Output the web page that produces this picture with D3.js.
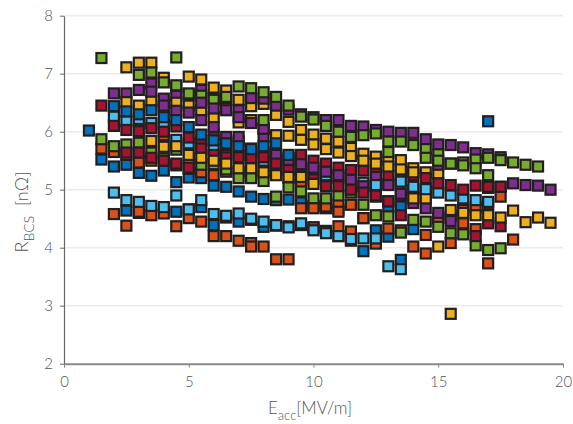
<!DOCTYPE html>
<html>
<head>
<meta charset="utf-8">
<script src="https://cdn.jsdelivr.net/npm/d3@7"></script>
<style>
  body { margin: 0; background: #fff; }
  svg text { font-family: "Lato", "DejaVu Sans", sans-serif; font-weight: 300; fill: #555; }
</style>
</head>
<body>
<svg id="chart"></svg>
<script>
// E_acc grid, 1 .. 19.5 MV/m in 0.5 steps (index 0..37)
const eacc = [1, 1.5, 2, 2.5, 3, 3.5, 4, 4.5, 5, 5.5, 6, 6.5, 7, 7.5, 8, 8.5, 9, 9.5, 10, 10.5,
  11, 11.5, 12, 12.5, 13, 13.5, 14, 14.5, 15, 15.5, 16, 16.5, 17, 17.5, 18, 18.5, 19, 19.5];
const _ = null;

const xTicks = [0, 5, 10, 15, 20];
const yTicks = [2, 3, 4, 5, 6, 7, 8];

const blue1 = [6.02, 5.52, 5.40, 5.43, 5.29, 5.24, 5.33, 5.13, 5.21, 5.20, 5.07, 5.05, 4.97, 4.88, 4.84, 4.82, 4.83, 4.78, 4.72, 4.68, 4.66, _, _, _, 4.71, 4.71, _, _, _, _, _, _, _, _, _, _, _, _];
const orange1 = [_, 5.71, 5.65, 5.60, 5.47, 5.50, 5.94, 5.42, 5.36, 5.30, 5.25, 5.31, 5.30, 5.25, 5.34, 5.38, 5.20, 5.10, 4.71, 4.75, 4.74, 4.74, 4.51, 4.88, 4.80, 4.90, 4.99, 4.90, 4.51, 4.55, 4.65, 4.70, 4.75, 4.88, _, _, _, _];
const yellow1 = [_, _, _, 7.11, 7.19, 7.19, 6.93, 6.76, 6.95, 6.90, 6.76, 6.71, 6.55, 6.44, 6.48, 6.29, 6.17, 6.03, 5.95, 5.88, 5.83, 5.72, 5.62, 5.57, 5.51, 5.51, 5.37, 5.30, 5.28, _, _, _, _, _, _, _, _, _];
const purple1 = [_, _, 6.66, 6.66, 6.72, 6.83, 6.57, 6.62, 6.65, 6.72, 6.58, 6.55, 6.37, 6.58, 6.57, 6.45, 6.38, 6.30, 6.25, 6.20, 6.20, 6.10, 6.09, 6.03, 6.00, 5.98, 5.98, 5.87, 5.78, 5.77, 5.73, 5.63, 5.61, 5.56, _, _, _, _];
const green1 = [_, _, _, _, 6.98, 7.02, 6.85, 6.80, 6.66, 6.62, 6.55, 6.60, 6.78, 6.75, 6.68, 6.60, 6.45, 6.26, 6.21, 6.10, 6.00, 5.91, 5.94, 5.97, 5.83, 5.83, 5.77, 5.70, 5.61, 5.45, 5.47, 5.52, 5.55, 5.51, 5.47, 5.43, 5.40, _];
const lightblue1 = [_, _, 6.26, 6.18, 6.22, 6.15, 6.14, 5.86, 5.80, 5.75, 5.70, 5.65, 5.60, 5.55, 5.50, 5.45, 5.40, 5.35, 5.30, 5.25, 5.20, 5.15, 5.12, 5.08, 5.10, 5.14, 5.05, 5.01, 4.95, 4.90, 4.85, 4.82, 4.79, _, _, _, _, _];
const darkred1 = [_, 6.45, 6.10, 6.03, 6.01, 6.06, 6.00, 6.09, 5.90, 5.85, 5.94, 5.77, 5.83, 5.70, 5.65, 5.60, 5.55, 5.60, 5.50, 5.45, 5.38, 5.34, 5.33, 5.30, 5.25, 5.31, 5.25, 5.20, 5.11, 5.08, 5.00, 5.07, 5.03, 5.05, _, _, _, _];

const blue2 = [_, _, _, 4.64, 4.60, _, _, 4.62, 4.66, 4.70, 4.39, 4.52, 4.45, 4.48, 4.36, 4.38, 4.37, 4.39, 4.35, 4.29, 4.20, 4.12, 3.94, 4.30, 4.19, 3.79, 4.32, _, _, _, _, _, _, _, _, _, _, _];
const orange2 = [_, _, 4.58, 4.38, 4.62, 4.56, 4.59, 4.37, 4.51, 4.45, 4.20, 4.20, 4.12, 4.08, 4.02, 3.80, 3.80, _, 4.35, 4.71, 4.37, 4.28, 4.51, 4.07, 4.33, 4.30, 4.02, 3.90, 4.51, 4.08, 4.42, 4.32, 3.73, _, 4.14, _, _, _];
const yellow2 = [_, _, _, 6.51, 6.45, 6.53, 6.40, 6.50, 6.45, 6.37, 6.25, 6.40, 6.16, 6.20, 6.05, 5.94, 5.93, 5.86, 5.78, 5.70, 5.64, 5.58, 5.50, 5.45, 5.40, 5.35, 5.30, _, _, _, _, _, _, _, _, _, _, _];
const purple2 = [_, _, _, _, _, 6.69, 6.45, 6.36, 6.33, 6.20, 6.08, 5.91, 5.91, 5.71, 5.91, 5.60, 5.51, 5.44, 5.38, 5.31, 5.25, 5.17, 5.06, 5.22, 5.08, 4.93, 4.77, 4.68, 4.60, 4.46, _, _, _, _, _, _, _, _];
const green2 = [_, 5.87, 5.75, 5.78, 5.81, 5.64, 5.54, 5.69, 5.54, 5.43, 5.44, 5.35, 5.20, 5.20, 5.15, 4.88, 5.04, 4.97, 4.85, 4.85, 4.90, 4.95, 4.74, 4.56, 4.54, 4.26, 4.48, 4.45, 4.36, 4.25, 4.23, 4.04, 3.96, 3.99, _, _, _, _];
const lightblue2 = [_, _, 4.95, 4.82, 4.79, 4.72, 4.70, 4.90, 4.66, 4.82, 4.58, 4.55, 4.59, 4.50, 4.45, 4.39, 4.35, 4.42, 4.30, 4.25, 4.20, 4.15, 4.16, 4.16, 3.68, 3.63, _, _, _, _, _, _, _, _, _, _, _, _];
const darkred2 = [_, _, _, 5.64, 5.64, 5.55, 5.50, 5.45, 5.38, 5.71, 5.60, 5.56, 5.56, 5.54, 5.56, 5.45, 5.34, 5.25, 5.18, 5.06, 5.06, 5.00, 4.95, 4.90, 4.80, 4.56, _, _, _, _, _, 4.20, 4.42, 4.37, _, _, _, _];

const blue3 = [_, _, 6.44, 6.35, 6.30, 6.37, 6.25, 6.20, 6.08, 5.95, 5.85, 5.80, 5.75, 5.70, 5.75, 5.80, 5.60, _, _, _, _, _, _, _, _, _, _, _, _, _, _, _, 6.18, _, _, _, _, _];
const orange3 = [_, _, _, _, _, _, _, _, _, _, _, _, _, 4.02, _, _, _, 4.68, 4.68, _, 4.62, _, _, _, _, _, _, 4.22, _, _, 4.65, _, _, _, _, _, _, _];
const yellow3 = [_, _, _, _, _, 5.84, 5.74, 5.75, 5.60, 5.55, 5.50, 5.45, 5.37, 5.37, 5.30, 5.25, 5.22, 5.22, 5.10, _, _, _, _, _, _, _, 4.85, 4.85, 4.02, 4.65, 4.60, 4.56, 4.56, 4.52, 4.64, 4.44, 4.52, 4.43];
const purple3 = [_, _, _, _, _, _, _, _, _, 6.50, 6.40, 6.37, 6.25, 6.15, 6.05, _, _, _, _, _, _, _, _, _, _, _, _, _, 5.43, _, _, _, _, _, 5.11, 5.08, 5.07, 5.00];
const green3 = [_, 7.27, _, _, _, _, _, 7.28, _, _, _, _, _, _, 6.20, _, _, _, _, _, _, _, _, _, 5.65, _, _, 5.55, 5.50, 5.45, 5.42, 5.37, 5.25, _, _, _, _, _];
const lightblue3 = [_, _, _, _, _, _, _, _, _, _, _, _, _, _, _, _, _, _, _, _, _, _, _, 5.08, _, 5.14, _, 5.01, _, _, _, _, _, _, _, _, _, _];
const darkred3 = [_, _, _, _, _, _, _, _, _, _, _, _, _, _, _, _, _, _, _, _, _, _, _, _, _, _, _, _, _, _, _, _, 5.05, 5.05, _, _, _, _];
const yellowLow = [_, _, _, _, _, _, _, _, _, _, _, _, _, _, _, _, _, _, _, _, _, _, _, _, _, _, _, _, _, 2.86, _, _, _, _, _, _, _, _];

const colors = {
  blue: "#0072bd", orange: "#d95319", yellow: "#edb120", purple: "#7e2f8e",
  green: "#77ac30", lightblue: "#4dbeee", darkred: "#a2142f"
};

// draw order follows the plotting order (colour cycle, three rounds)
const series = [
  [blue1, "blue"], [orange1, "orange"], [yellow1, "yellow"], [purple1, "purple"], [green1, "green"], [lightblue1, "lightblue"], [darkred1, "darkred"],
  [blue2, "blue"], [orange2, "orange"], [yellow2, "yellow"], [purple2, "purple"], [green2, "green"], [lightblue2, "lightblue"], [darkred2, "darkred"],
  [blue3, "blue"], [orange3, "orange"], [yellow3, "yellow"], [purple3, "purple"], [green3, "green"], [lightblue3, "lightblue"], [darkred3, "darkred"],
  [yellowLow, "yellow"]
];

const width = 573;
const height = 424;
const margin = { top: 15.7, right: 10, bottom: 60.3, left: 64 };

const svg = d3.select("#chart").attr("width", width).attr("height", height);

const xScale = d3.scaleLinear().domain([0, 20]).range([margin.left, width - margin.right]);
const yScale = d3.scaleLinear().domain([2, 8]).range([height - margin.bottom, margin.top]);

// horizontal grid
svg.append("g")
  .selectAll("line")
  .data(yTicks.slice(1))
  .enter()
  .append("line")
  .attr("x1", xScale(0))
  .attr("x2", xScale(20))
  .attr("y1", (d) => yScale(d))
  .attr("y2", (d) => yScale(d))
  .attr("stroke", "#ebebeb")
  .attr("stroke-width", 1.5);

const points = [];
series.forEach(function (s) {
  s[0].forEach(function (v, i) {
    if (v !== null) points.push({ x: eacc[i], y: v, c: colors[s[1]] });
  });
});

const size = 10;
svg.append("g")
  .selectAll("rect")
  .data(points)
  .enter()
  .append("rect")
  .attr("x", (d) => xScale(d.x) - size / 2)
  .attr("y", (d) => yScale(d.y) - size / 2)
  .attr("width", size)
  .attr("height", size)
  .attr("fill", (d) => d.c)
  .attr("stroke", "#231f20")
  .attr("stroke-width", 2.2);

const xAxis = d3.axisBottom(xScale).tickValues(xTicks).tickFormat(d3.format("d")).tickSize(4).tickPadding(9).tickSizeOuter(0);
const yAxis = d3.axisLeft(yScale).tickValues(yTicks).tickFormat(d3.format("d")).tickSize(4).tickPadding(7).tickSizeOuter(0);

const gx = svg.append("g")
  .attr("transform", "translate(0," + yScale(2) + ")")
  .call(xAxis);
gx.select(".domain").attr("stroke", "#8a8a8a").attr("stroke-width", 2);
gx.selectAll(".tick line").attr("stroke", "#8a8a8a");
gx.selectAll("text").style("font-size", "15px").style("fill", "#555");

const gy = svg.append("g")
  .attr("transform", "translate(" + xScale(0) + ",0)")
  .call(yAxis);
gy.select(".domain").attr("stroke", "#666").attr("stroke-width", 1.2);
gy.selectAll(".tick line").attr("stroke", "#666");
gy.selectAll("text").style("font-size", "15px").style("fill", "#555");

// axis titles
const xl = svg.append("text")
  .attr("x", 310)
  .attr("y", 414)
  .attr("text-anchor", "middle")
  .style("font-size", "17px");
xl.append("tspan").text("E");
xl.append("tspan").attr("dy", 6).style("font-size", "13px").text("acc");
xl.append("tspan").attr("dy", -6).text("[MV/m]");

const yl = svg.append("text")
  .attr("transform", "translate(28,212) rotate(-90)")
  .attr("text-anchor", "middle")
  .style("font-size", "18px")
  .style("white-space", "pre");
yl.append("tspan").text("R");
yl.append("tspan").attr("dy", 6).style("font-size", "14px").text("BCS");
yl.append("tspan").attr("dy", -6).text("  [nΩ]");
</script>
</body>
</html>
